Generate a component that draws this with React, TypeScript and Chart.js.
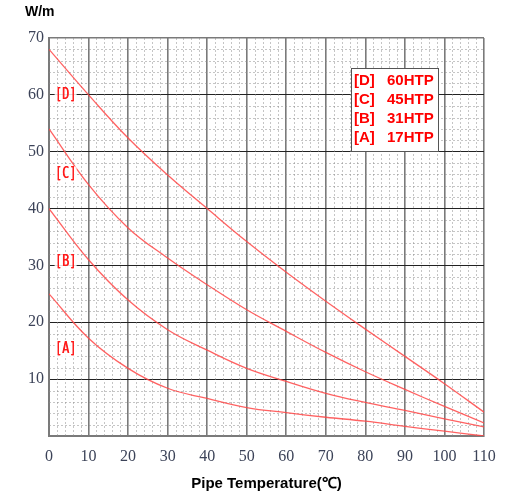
import React, { useEffect, useRef } from "react";
import { Chart, registerables } from "chart.js";

Chart.register(...registerables);

const temps = [0, 10, 20, 30, 40, 50, 60, 70, 80, 90, 100, 110];
const seriesD = [68, 60, 52.4, 45.9, 40.0, 34.2, 28.8, 23.7, 18.8, 14.0, 9.2, 4.2];
const seriesC = [54, 44.2, 36.6, 31.3, 26.6, 22.2, 18.4, 14.7, 11.3, 8.2, 5.2, 2.3];
const seriesB = [40, 31.0, 23.9, 18.7, 15.1, 11.9, 9.6, 7.5, 5.9, 4.5, 3.0, 1.6];
const seriesA = [25, 17.2, 11.9, 8.4, 6.6, 5.0, 4.1, 3.3, 2.6, 1.7, 0.85, 0];

const curveTags = ["[D]", "[C]", "[B]", "[A]"];
const curveTagY = [60, 46, 30.5, 15.2];
const curveTagX = 4.2;

const legendCodes = ["[D]", "[C]", "[B]", "[A]"];
const legendNames = ["60HTP", "45HTP", "31HTP", "17HTP"];

const yTitle = "W/m";
const xTitle = "Pipe Temperature(℃)";

const CURVE = "rgba(255,70,70,0.85)";

const minorGrid = {
  id: "minorGrid",
  beforeDatasetsDraw(chart: any) {
    const { ctx, chartArea, scales } = chart;
    const xs = scales.x;
    const ys = scales.y;
    ctx.save();
    ctx.strokeStyle = "rgba(140,140,140,0.5)";
    ctx.lineWidth = 1;
    ctx.setLineDash([2, 2]);
    for (let v = 2; v < 110; v += 2) {
      if (v % 10 === 0) continue;
      const px = Math.round(xs.getPixelForValue(v)) + 0.5;
      ctx.beginPath();
      ctx.moveTo(px, chartArea.top);
      ctx.lineTo(px, chartArea.bottom);
      ctx.stroke();
    }
    for (let v = 2; v < 70; v += 2) {
      if (v % 10 === 0) continue;
      const py = Math.round(ys.getPixelForValue(v)) + 0.5;
      ctx.beginPath();
      ctx.moveTo(chartArea.left, py);
      ctx.lineTo(chartArea.right, py);
      ctx.stroke();
    }
    ctx.restore();
  },
};

const annotations = {
  id: "annotations",
  afterDraw(chart: any) {
    const { ctx, chartArea, scales } = chart;
    const xs = scales.x;
    const ys = scales.y;
    ctx.save();
    // curve tags
    curveTags.forEach((t, i) => {
      const px = xs.getPixelForValue(curveTagX);
      const py = ys.getPixelForValue(curveTagY[i]);
      ctx.fillStyle = "rgba(255,255,255,0.85)";
      ctx.fillRect(px - 11, py - 8, 22, 16);
      ctx.save();
      ctx.translate(px, py);
      ctx.scale(0.78, 1);
      ctx.font = "15px 'DejaVu Sans Mono'";
      ctx.fillStyle = "#ff1a1a";
      ctx.textAlign = "center";
      ctx.textBaseline = "middle";
      ctx.fillText(t, 0, 0);
      ctx.fillText(t, 0.4, 0);
      ctx.restore();
    });
    // legend box
    const bx = chartArea.right - 133;
    const by = chartArea.top + 30;
    const bw = 87;
    const bh = 83;
    ctx.fillStyle = "#ffffff";
    ctx.fillRect(bx, by, bw, bh);
    ctx.strokeStyle = "#555";
    ctx.lineWidth = 1;
    ctx.strokeRect(bx + 0.5, by + 0.5, bw, bh);
    ctx.font = "bold 15px 'Liberation Sans', Arial, sans-serif";
    ctx.fillStyle = "#ff0000";
    ctx.textAlign = "left";
    ctx.textBaseline = "middle";
    legendCodes.forEach((c, i) => {
      const ty = by + 13 + i * 18.8;
      ctx.fillText(c, bx + 3, ty);
      ctx.fillText(legendNames[i], bx + 36, ty);
    });
    // titles
    ctx.fillStyle = "#000";
    ctx.font = "bold 14px 'Liberation Sans', Arial, sans-serif";
    ctx.textAlign = "left";
    ctx.fillText(yTitle, chartArea.left - 24, chartArea.top - 26);
    ctx.font = "bold 15px 'Liberation Sans', Arial, sans-serif";
    ctx.textAlign = "center";
    ctx.fillText(xTitle, (chartArea.left + chartArea.right) / 2, chartArea.bottom + 48);
    ctx.restore();
  },
};

export default function App() {
  const ref = useRef<HTMLCanvasElement>(null);
  useEffect(() => {
    if (!ref.current) return;
    const mk = (arr: number[]) => temps.map((t, i) => ({ x: t, y: arr[i] }));
    const ds = (data: number[]) => ({
      data: mk(data),
      borderColor: CURVE,
      borderWidth: 1.3,
      pointRadius: 0,
      fill: false,
      tension: 0.4,
    });
    const chart = new Chart(ref.current, {
      type: "line",
      data: {
        datasets: [ds(seriesD), ds(seriesC), ds(seriesB), ds(seriesA)],
      },
      options: {
        animation: false,
        responsive: false,
        layout: { padding: { top: 38, right: 31, left: 0, bottom: 0 } },
        plugins: { legend: { display: false }, tooltip: { enabled: false } },
        scales: {
          x: {
            type: "linear",
            min: 0,
            max: 110,
            afterFit: (s: any) => {
              s.height = 59;
            },
            ticks: {
              stepSize: 10,
              padding: 11,
              color: "#3c4358",
              font: { family: "'Liberation Serif', serif", size: 16 },
              maxRotation: 0,
            },
            grid: {
              color: "#7a7a7a",
              lineWidth: 1.6,
              drawTicks: false,
            },
            border: { color: "#7a7a7a", width: 2 },
          },
          y: {
            type: "linear",
            min: 0,
            max: 70,
            afterFit: (s: any) => {
              s.width = 49;
            },
            ticks: {
              stepSize: 10,
              padding: 5,
              color: "#3c4358",
              font: { family: "'Liberation Serif', serif", size: 16 },
              callback: (v: any) => (v === 0 ? "" : String(v)),
            },
            grid: {
              color: (c: any) =>
                c.tick && (c.tick.value === 0 || c.tick.value === 70) ? "#7a7a7a" : "#222",
              lineWidth: (c: any) =>
                c.tick && (c.tick.value === 0 || c.tick.value === 70) ? 1.6 : 1,
              drawTicks: false,
            },
            border: { color: "#7a7a7a", width: 2 },
          },
        },
      },
      plugins: [minorGrid, annotations],
    });
    return () => chart.destroy();
  }, []);
  return (
    <div style={{ position: "absolute", left: 0, top: 0, width: 515, height: 495, background: "#fff" }}>
      <canvas ref={ref} width={515} height={495} />
    </div>
  );
}
